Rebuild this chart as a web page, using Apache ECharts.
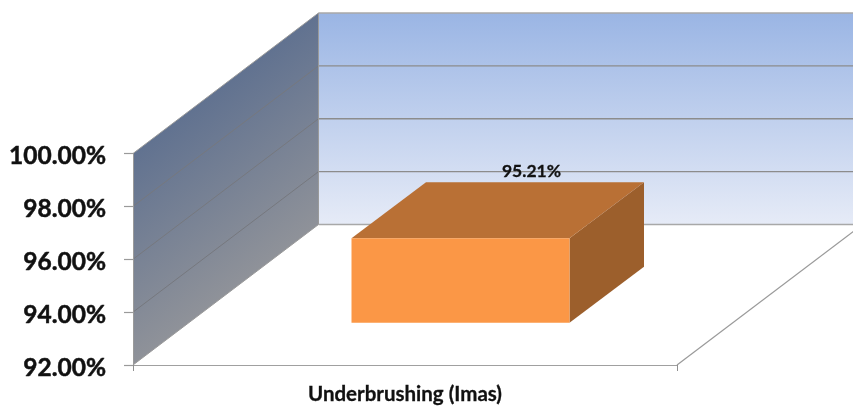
<!DOCTYPE html>
<html><head><meta charset="utf-8">
<style>html,body{margin:0;padding:0;background:#fff}#c{width:853px;height:406px}</style>
<script src="https://cdn.jsdelivr.net/npm/echarts@6/dist/echarts.min.js"></script>
</head><body><div id="c"></div>
<script>
const categories = ['Underbrushing (Imas)'];
const values = [95.21];
const yTicks = [92, 94, 96, 98, 100];
const FONT = 'Lato, Carlito, sans-serif';
const wallDepth = [185.5, -140.5];
const barOffset = [55.5, -42.3];
const barDepth = [74.5, -56];
const barWidth = 218;
const chart = echarts.init(document.getElementById('c'), null, {renderer:'canvas'});
const poly = (points, fill, z2) => ({type:'polygon', z2: z2||0, shape:{points}, style:{fill, stroke:null}});
const line = (a, b, stroke, lineWidth, z2) => ({type:'line', z2: z2||1, shape:{x1:a[0],y1:a[1],x2:b[0],y2:b[1]}, style:{stroke, lineWidth, fill:null}});
const grad = (x0,y0,x2,y2,c0,c1,g) => new echarts.graphic.LinearGradient(x0,y0,x2,y2,[{offset:0,color:c0},{offset:1,color:c1}],g);
function renderWalls(params, api){
  const cs = params.coordSys;
  const x0 = cs.x, x1 = cs.x + cs.width;
  const [dx, dy] = wallDepth;
  const yMin = yTicks[0], yMax = yTicks[yTicks.length-1];
  const yB = api.coord([0, yMin])[1], yT = api.coord([0, yMax])[1];
  const len = Math.hypot(dx, dy), nx = -dy/len, ny = dx/len, proj = (yB-yT)*ny;
  const ch = [];
  ch.push(poly([[x0,yB],[x0,yT],[x0+dx,yT+dy],[x0+dx,yB+dy]], grad(x0,yT,x0+nx*proj,yT+ny*proj,'#617290','#8f9299',true)));
  ch.push(poly([[x0+dx,yT+dy],[x1+dx,yT+dy],[x1+dx,yB+dy],[x0+dx,yB+dy]], grad(0,0,0,1,'#9ab5e4','#e6ebf7')));
  yTicks.forEach(v => {
    const y = api.coord([0, v])[1];
    const edge = v === yMin || v === yMax;
    ch.push(line([x0,y],[x0+dx,y+dy], edge ? '#9a9a9a' : '#76787e', 1));
    ch.push(line([x0+dx,y+dy],[x1+dx,y+dy], edge ? '#a8a8a8' : '#8c8c8c', 1.4));
  });
  ch.push(line([x0+dx,yT+dy],[x0+dx,yB+dy], '#9a9a9a', 1));
  ch.push(line([x1,yB],[x1+dx,yB+dy], '#9a9a9a', 1.2));
  return {type:'group', children:ch};
}
function renderBar(params, api){
  const c = api.value(0), v = api.value(1);
  const base = api.coord([c, yTicks[0]]), top = api.coord([c, v]);
  const l = base[0] + barOffset[0] - barWidth/2, r = l + barWidth;
  const b = base[1] + barOffset[1], t = top[1] + barOffset[1] + 0.5;
  const [dx, dy] = barDepth;
  return {type:'group', children:[
    poly([[r,b],[r,t],[r+dx,t+dy],[r+dx,b+dy]], '#9c5f2c', 2),
    poly([[l,t],[r,t],[r+dx,t+dy],[l+dx,t+dy]], '#b97035', 2),
    poly([[l,b],[r,b],[r,t],[l,t]], '#fb9746', 3),
    {type:'text', z2:5, style:{x:(l+r)/2+71, y:t+dy-10.5, text:v.toFixed(2)+'%', align:'center', verticalAlign:'middle',
      fill:'#111', stroke:'#111', lineWidth:0.3, font:'bold 17.5px '+FONT}}
  ]};
}
chart.setOption({
  animation:false, backgroundColor:'#fff',
  grid:{left:133, right:176, top:153.5, bottom:41},
  xAxis:{type:'category', data:categories, z:5,
    axisLine:{lineStyle:{color:'#a0a0a0',width:1.2}},
    axisTick:{show:true,length:6,alignWithLabel:false,lineStyle:{color:'#909090'}},
    axisLabel:{color:'#111',fontFamily:FONT,fontWeight:'bold',fontSize:20.5,margin:19,
      textBorderColor:'#111',textBorderWidth:0.3},
    splitLine:{show:false}},
  yAxis:{type:'value', min:92, max:100, interval:2, z:5,
    axisLine:{show:true,lineStyle:{color:'#9a9a9a',width:1}},
    axisTick:{show:true,length:9,lineStyle:{color:'#9a9a9a',width:1.2}},
    axisLabel:{margin:27,
      formatter:v=>'{t|'+v.toFixed(2)+'%}',
      rich:{t:{color:'#111',fontFamily:FONT,fontWeight:'bold',fontSize:24.5,
        textBorderColor:'#111',textBorderWidth:0.5,padding:[6,0,0,0]}}},
    splitLine:{show:false}},
  series:[
    {type:'custom', clip:false, silent:true, z:1, renderItem:renderWalls, data:[[0,yTicks[0]]], encode:{x:0,y:1}},
    {type:'custom', clip:false, silent:true, z:3, renderItem:renderBar, data:values.map((v,i)=>[i,v]), encode:{x:0,y:1}}
  ]
});
</script></body></html>
